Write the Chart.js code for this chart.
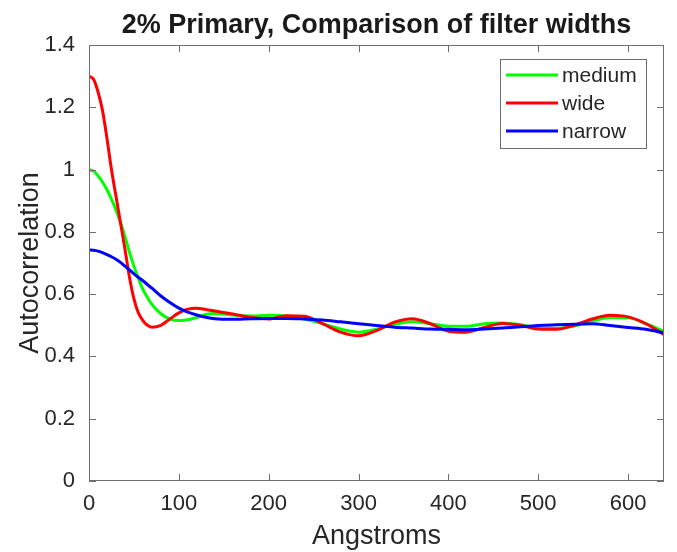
<!DOCTYPE html>
<html>
<head>
<meta charset="utf-8">
<script src="https://cdn.jsdelivr.net/npm/chart.js@4/dist/chart.umd.min.js"></script>
<style>
  body { margin: 0; background: #fff; }
  #wrap { width: 677px; height: 552px; }
</style>
</head>
<body>
<div id="wrap"><canvas id="chart" width="677" height="552"></canvas></div>
<script>
// sample positions (Angstroms)
var xs = [0, 5, 10, 15, 20, 25, 30, 35, 40, 45, 50, 55, 60, 65, 70, 80, 90, 100, 110, 120, 130, 140,
          160, 180, 200, 220, 240, 260, 280, 300, 320, 340, 360, 380, 400, 420, 440, 460, 480, 500,
          520, 540, 560, 580, 600, 620, 640];

var medium = [1.0, 0.995, 0.98, 0.96, 0.935, 0.905, 0.87, 0.83, 0.785, 0.735, 0.69, 0.65, 0.615, 0.59, 0.567,
              0.537, 0.52, 0.515, 0.518, 0.525, 0.535, 0.538, 0.533, 0.53, 0.532, 0.53, 0.52, 0.505, 0.488,
              0.478, 0.487, 0.503, 0.511, 0.505, 0.497, 0.497, 0.505, 0.507, 0.502, 0.492, 0.49, 0.498,
              0.513, 0.525, 0.524, 0.505, 0.48];

var wide = [1.30, 1.29, 1.25, 1.19, 1.10, 1.0, 0.915, 0.83, 0.745, 0.655, 0.585, 0.54, 0.515, 0.50, 0.494,
            0.50, 0.52, 0.54, 0.552, 0.555, 0.551, 0.546, 0.536, 0.526, 0.52, 0.531, 0.529, 0.505, 0.478,
            0.466, 0.483, 0.51, 0.521, 0.505, 0.481, 0.478, 0.493, 0.506, 0.50, 0.488, 0.487, 0.50,
            0.52, 0.532, 0.527, 0.505, 0.47];

var narrow = [0.742, 0.741, 0.738, 0.733, 0.727, 0.72, 0.712, 0.702, 0.69, 0.678, 0.665, 0.654, 0.643, 0.631,
              0.619, 0.594, 0.573, 0.555, 0.542, 0.533, 0.526, 0.521, 0.519, 0.521, 0.522, 0.522, 0.52,
              0.517, 0.511, 0.505, 0.499, 0.494, 0.491, 0.488, 0.487, 0.486, 0.488, 0.491, 0.495, 0.499,
              0.502, 0.503, 0.505, 0.499, 0.493, 0.487, 0.475];

var xTicks = [0, 100, 200, 300, 400, 500, 600];
var yTicks = [0, 0.2, 0.4, 0.6, 0.8, 1, 1.2, 1.4];

var titleText = '2% Primary, Comparison of filter widths';
var axisColor = '#262626';
var fontFamily = '"Liberation Sans", Arial, sans-serif';

var toPoints = function(ys) {
    var pts = [];
    for (var i = 0; i < xs.length; i++) {
        pts.push({x: xs[i], y: ys[i]});
    }
    return pts;
};

var makeSet = function(label, ys, color, order) {
    return {
        label: label,
        data: toPoints(ys),
        borderColor: color,
        backgroundColor: color,
        borderWidth: 3,
        pointRadius: 0,
        cubicInterpolationMode: 'monotone',
        order: order
    };
};

// MATLAB-ish box, inward ticks, inside legend, title over plot area
var matlabFrame = {
    id: 'matlabFrame',
    afterDatasetsDraw: function(chart) {
        var ctx = chart.ctx, a = chart.chartArea;
        var xs_ = chart.scales.x, ys_ = chart.scales.y;
        var tl = 7;
        ctx.save();
        ctx.strokeStyle = '#6e6e6e';
        ctx.lineWidth = 1;
        ctx.strokeRect(a.left + 0.5, a.top + 0.5, a.right - a.left - 1, a.bottom - a.top - 1);
        ctx.beginPath();
        xTicks.forEach(function(v) {
            var px = Math.round(xs_.getPixelForValue(v)) + 0.5;
            ctx.moveTo(px, a.bottom); ctx.lineTo(px, a.bottom - tl);
            ctx.moveTo(px, a.top); ctx.lineTo(px, a.top + tl);
        });
        yTicks.forEach(function(v) {
            var py = Math.round(ys_.getPixelForValue(v)) + 0.5;
            ctx.moveTo(a.left, py); ctx.lineTo(a.left + tl, py);
            ctx.moveTo(a.right, py); ctx.lineTo(a.right - tl, py);
        });
        ctx.stroke();

        // title
        ctx.fillStyle = '#1a1a1a';
        ctx.font = 'bold 27px ' + fontFamily;
        ctx.textAlign = 'center';
        ctx.textBaseline = 'middle';
        ctx.fillText(titleText, (a.left + a.right) / 2, 26);

        // legend
        var bx = 500, by = 59, bw = 146, bh = 89;
        ctx.fillStyle = '#fff';
        ctx.fillRect(bx, by, bw, bh);
        ctx.strokeStyle = '#6e6e6e';
        ctx.strokeRect(bx + 0.5, by + 0.5, bw, bh);
        ctx.font = '21px ' + fontFamily;
        ctx.textAlign = 'left';
        chart.data.datasets.forEach(function(ds, i) {
            var yy = by + 16 + i * 28;
            ctx.strokeStyle = ds.borderColor;
            ctx.lineWidth = 3;
            ctx.beginPath();
            ctx.moveTo(bx + 6, yy); ctx.lineTo(bx + 58, yy);
            ctx.stroke();
            ctx.fillStyle = axisColor;
            ctx.fillText(ds.label, bx + 62, yy + 1);
        });
        ctx.restore();
    }
};

var config = {
    type: 'line',
    data: {
        datasets: [
            makeSet('medium', medium, '#00ff00', 2),
            makeSet('wide', wide, '#ff0000', 1),
            makeSet('narrow', narrow, '#0000ff', 0)
        ]
    },
    options: {
        responsive: false,
        animation: false,
        devicePixelRatio: 1,
        layout: { padding: { top: 45, right: 13, left: 0, bottom: 0 } },
        plugins: {
            legend: { display: false },
            tooltip: { enabled: false },
            title: { display: false }
        },
        scales: {
            x: {
                type: 'linear',
                min: 0,
                max: 640,
                afterBuildTicks: function(scale) {
                    scale.ticks = xTicks.map(function(v) { return {value: v}; });
                },
                afterFit: function(scale) { scale.height = 71; },
                grid: { display: false, drawTicks: false },
                border: { display: false },
                ticks: {
                    padding: 10,
                    maxRotation: 0,
                    color: axisColor,
                    font: { family: fontFamily, size: 22 }
                },
                title: {
                    display: true,
                    text: 'Angstroms',
                    color: axisColor,
                    padding: { top: 0, bottom: -1 },
                    font: { family: fontFamily, size: 27 }
                }
            },
            y: {
                type: 'linear',
                min: 0,
                max: 1.4,
                afterBuildTicks: function(scale) {
                    scale.ticks = yTicks.map(function(v) { return {value: v}; });
                },
                afterFit: function(scale) { scale.width = 89; },
                grid: { display: false, drawTicks: false },
                border: { display: false },
                ticks: {
                    padding: 14,
                    color: axisColor,
                    font: { family: fontFamily, size: 22 },
                    callback: function(v) { return String(Math.round(v * 10) / 10); }
                },
                title: {
                    display: true,
                    text: 'Autocorrelation',
                    color: axisColor,
                    padding: { top: 14, bottom: 0 },
                    font: { family: fontFamily, size: 27 }
                }
            }
        }
    },
    plugins: [matlabFrame]
};

var ctx = document.getElementById('chart').getContext('2d');
window.myChart = new Chart(ctx, config);
</script>
</body>
</html>
